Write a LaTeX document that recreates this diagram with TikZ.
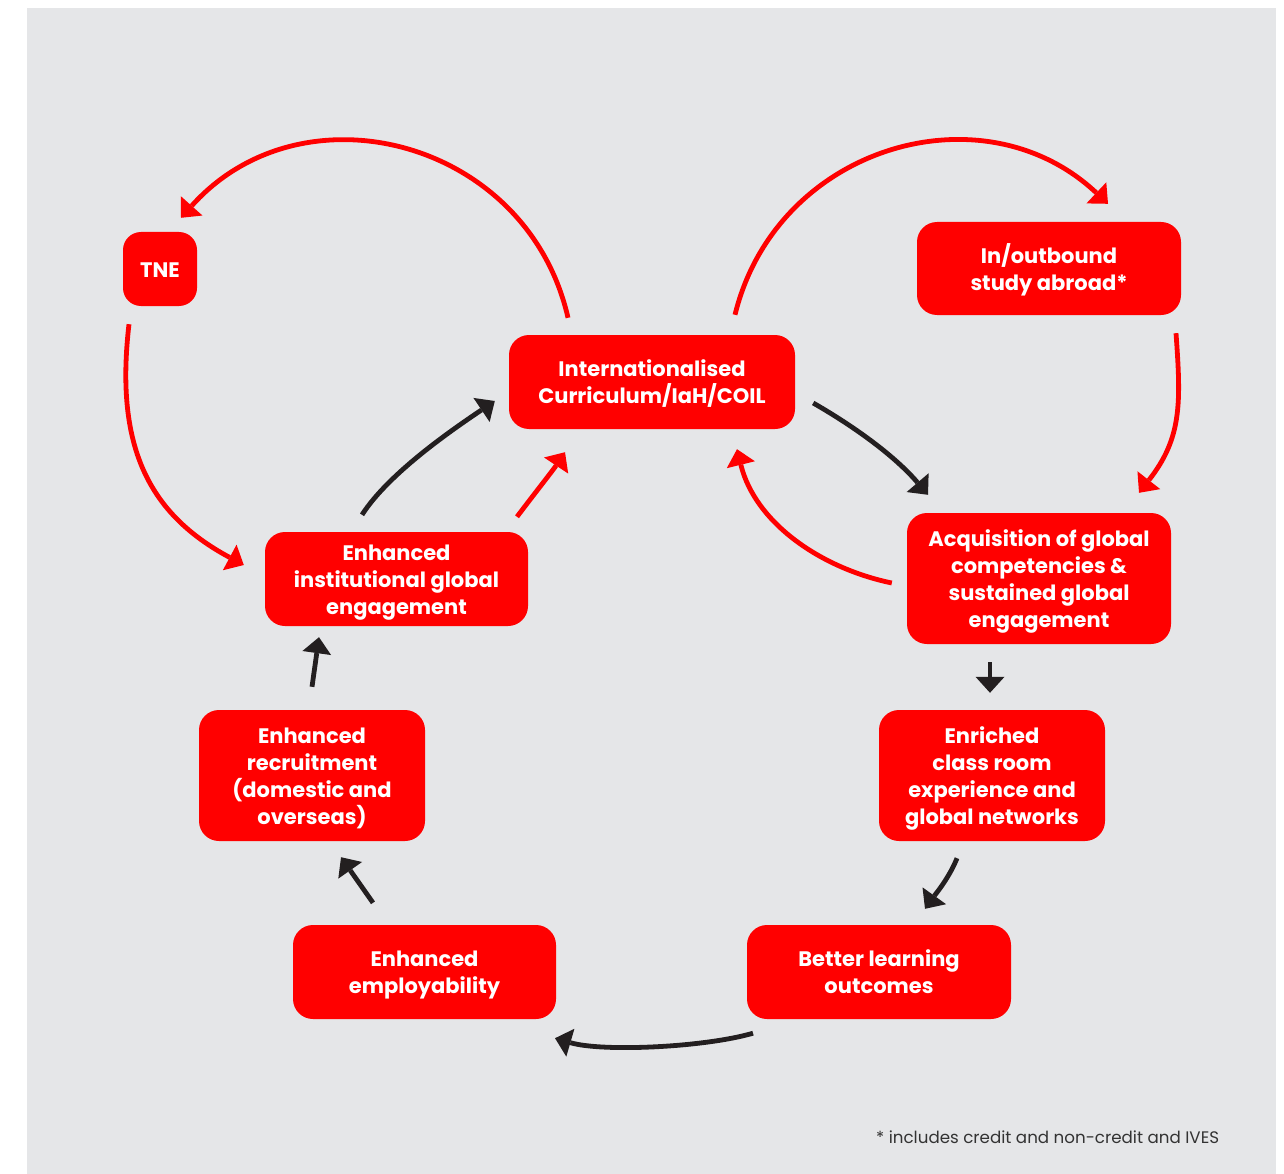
\documentclass[tikz,border=0pt]{standalone}
\usepackage{fontspec}
\setmainfont{Poppins}
\usetikzlibrary{arrows.meta}
\definecolor{bg}{HTML}{E5E6E8}
\definecolor{rd}{HTML}{FF0000}
\definecolor{bk}{HTML}{231F20}
\definecolor{ft}{HTML}{333333}
\newcommand\boxtopstrut{\rule{0pt}{26pt}}
\newcommand\boxbotstrut{\rule[-9.5pt]{0pt}{9.5pt}}
\begin{document}
\begin{tikzpicture}[x=1pt,y=-1pt,
  box/.style={draw=none, fill=rd, rounded corners=20pt, text=white, align=center, inner sep=0pt,
    font=\fontsize{21}{27}\selectfont\bfseries},
  redarrow/.style={draw=rd, line width=4.8pt, -{Triangle[length=16pt,width=29pt,line width=0pt]}},
  blackarrow/.style={draw=bk, line width=4.8pt, -{Triangle[length=16pt,width=29pt,line width=0pt]}}]
\useasboundingbox (0,0) rectangle (1284,1174);
\fill[bg] (27,8) rectangle (1276,1174);

\node[box, minimum width=74pt, minimum height=74pt, rounded corners=18pt] (tne) at (160,269) {\boxtopstrut TNE\boxbotstrut};
\node[box, minimum width=264pt, minimum height=93pt] (inout) at (1049,268.5) {\boxtopstrut In/outbound\\study abroad*\boxbotstrut};
\node[box, minimum width=286pt, minimum height=94pt] (intl) at (652,382) {\boxtopstrut Internationalised\\Curriculum/IaH/COIL\boxbotstrut};
\node[box, minimum width=264pt, minimum height=131pt] (acq) at (1039,578.5) {\boxtopstrut Acquisition of global\\competencies \&\\sustained global\\engagement\boxbotstrut};
\node[box, minimum width=263pt, minimum height=94pt] (inst) at (396.5,579) {\boxtopstrut Enhanced\\institutional global\\engagement\boxbotstrut};
\node[box, minimum width=226pt, minimum height=131pt] (recr) at (312,775.5) {\boxtopstrut Enhanced\\recruitment\\(domestic and\\overseas)\boxbotstrut};
\node[box, minimum width=226pt, minimum height=131pt] (enr) at (992,775.5) {\boxtopstrut Enriched\\class room\\experience and\\global networks\boxbotstrut};
\node[box, minimum width=263pt, minimum height=94pt] (empl) at (424.5,972) {\boxtopstrut Enhanced\\employability\boxbotstrut};
\node[box, minimum width=264pt, minimum height=94pt] (better) at (879,972) {\boxtopstrut Better learning\\outcomes\boxbotstrut};

\node[font=\fontsize{16.7}{20}\selectfont, text=ft, anchor=west, inner sep=0pt] (note) at (876,1137) {* includes credit and non-credit and IVES};

% red arcs
\draw[redarrow] ([xshift=-84pt,yshift=17pt]intl.north) .. controls +(-40.5,-178.1) and +(121.8,-136.2) .. ([xshift=21pt,yshift=14pt]tne.north);
\draw[redarrow] ([xshift=83pt,yshift=20pt]intl.north) .. controls +(40.9,-167.8) and +(-125.9,-118.3) .. ([xshift=59pt,yshift=18pt]inout.north);
\draw[redarrow] ([xshift=-31pt,yshift=-18pt]tne.south) .. controls +(-14,120) and +(-97,-52) .. ([xshift=-21pt,yshift=14pt]inst.west);
\draw[redarrow] ([xshift=127pt,yshift=-18pt]inout.south) .. controls +(5,70) and +(43,-55) .. ([xshift=100pt,yshift=20pt]acq.north);
\draw[redarrow] ([xshift=-15pt,yshift=-4.5pt]acq.west) .. controls +(-72,-15) and +(18,73) .. ([xshift=85pt,yshift=-20pt]intl.south);
\draw[redarrow] ([xshift=120.5pt,yshift=15pt]inst.north) .. controls +(15,-20) and +(-12,18) .. ([xshift=-87pt,yshift=-23pt]intl.south);

% black arrows
\draw[blackarrow] ([xshift=18pt,yshift=-21pt]intl.east) .. controls +(43.5,25) and +(-32.5,-38) .. ([xshift=-111pt,yshift=18pt]acq.north);
\draw[blackarrow] ([xshift=-34.5pt,yshift=17pt]inst.north) .. controls +(27,-42) and +(-41.5,28) .. ([xshift=-14pt,yshift=-19pt]intl.west);
\draw[blackarrow] ([xshift=-49pt,yshift=-18pt]acq.south) -- ([xshift=-2pt,yshift=17pt]enr.north);
\draw[blackarrow] ([xshift=-35pt,yshift=-17pt]enr.south) .. controls +(-8,20) and +(10,-14) .. ([xshift=46pt,yshift=16pt]better.north);
\draw[blackarrow] ([xshift=-126pt,yshift=-14pt]better.south) .. controls +(-48,14) and +(48,14) .. ([xshift=130.5pt,yshift=-19pt]empl.south);
\draw[blackarrow] ([xshift=-51.5pt,yshift=22pt]empl.north) -- ([xshift=29pt,yshift=-16pt]recr.south);
\draw[blackarrow] ([yshift=23pt]recr.north) -- ([xshift=-77.5pt,yshift=-11pt]inst.south);
\end{tikzpicture}
\end{document}
